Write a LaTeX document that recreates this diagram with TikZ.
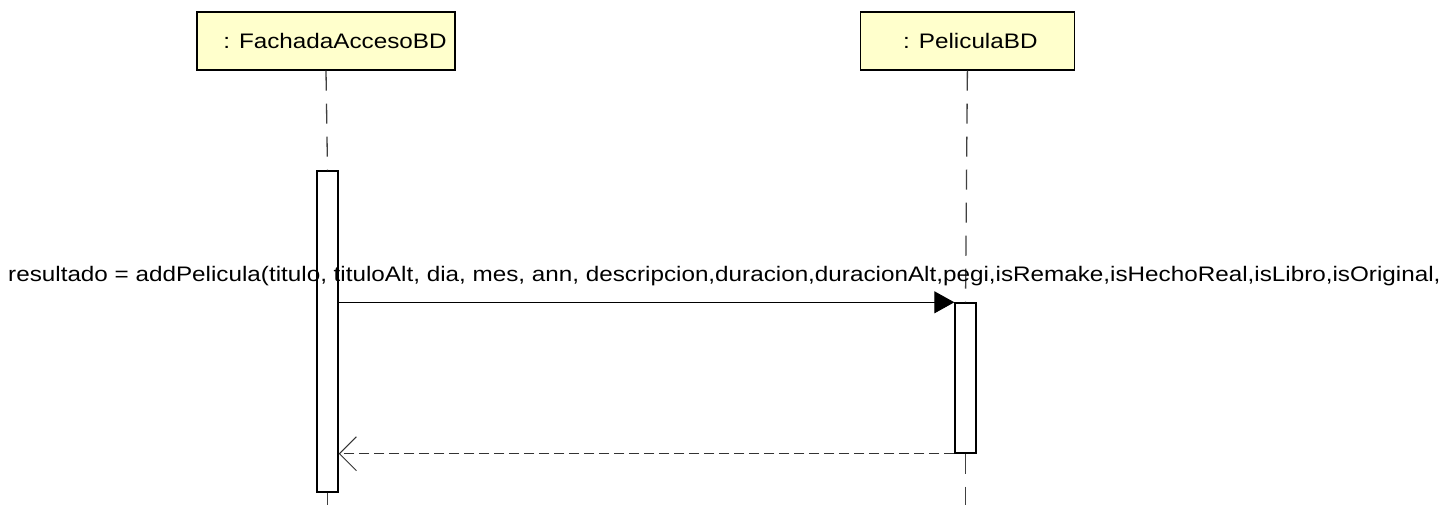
\documentclass[tikz,border=0pt]{standalone}
\usepackage{fontspec}
\setmainfont{Liberation Sans}
\usetikzlibrary{arrows.meta,positioning}
\definecolor{boxyellow}{RGB}{255,255,204}
\newcommand{\widetext}[1]{\scalebox{1.155}[1]{#1}}

\begin{document}
\begin{tikzpicture}[x=1pt, y=-1pt, font=\fontsize{21}{24}\selectfont,
	object box/.style={rectangle, draw, line width=1.4pt, fill=boxyellow, minimum width=258pt, minimum height=58pt, inner sep=0pt},
	activation/.style={rectangle, draw, line width=1.4pt, fill=white, minimum width=21pt, inner sep=0pt},
	lifeline/.style={draw=black!75, line width=1.3pt, dash pattern=on 20pt off 13pt},
	call/.style={line width=1pt, -{Triangle[length=20pt, width=22pt]}},
	reply/.style={line width=1pt, draw=black!80, dash pattern=on 10pt off 5pt, -{Straight Barb[length=17pt, width=34pt, line width=1pt]}}]

	\useasboundingbox (0,0) rectangle (1445,505);

	% objects
	\node[object box] (fachada) at (326,41) {\hspace{18pt}\widetext{: FachadaAccesoBD}};
	\node[object box, minimum width=214pt, right=404pt of fachada] (pelicula) {\hspace{6pt}\widetext{: PeliculaBD}};

	% activations
	\node[activation, minimum height=321pt] (act1) at (327.5,331.5) {};
	\node[activation, minimum height=150pt] (act2) at (965.5,378) {};

	\coordinate (end1) at (327.5,505);
	\coordinate (end2) at (965.5,505);

	% lifelines
	\draw[lifeline] (fachada.south) -- (act1.north);
	\draw[lifeline] (act1.south) -- (end1);
	\draw[lifeline] (pelicula.south) -- (act2.north);
	\draw[lifeline] (act2.south) -- (end2);

	% call and reply
	\draw[call] (act1.east |- act2.north) -- (act2.north west);
	\node[anchor=base west, inner sep=0pt] (msg) at (8,281) {\widetext{resultado = addPelicula(titulo, tituloAlt, dia, mes, ann, descripcion,duracion,duracionAlt,pegi,isRemake,isHechoReal,isLibro,isOriginal,}};
	\draw[reply] (act2.south west) -- (act1.east |- act2.south);

\end{tikzpicture}
\end{document}
